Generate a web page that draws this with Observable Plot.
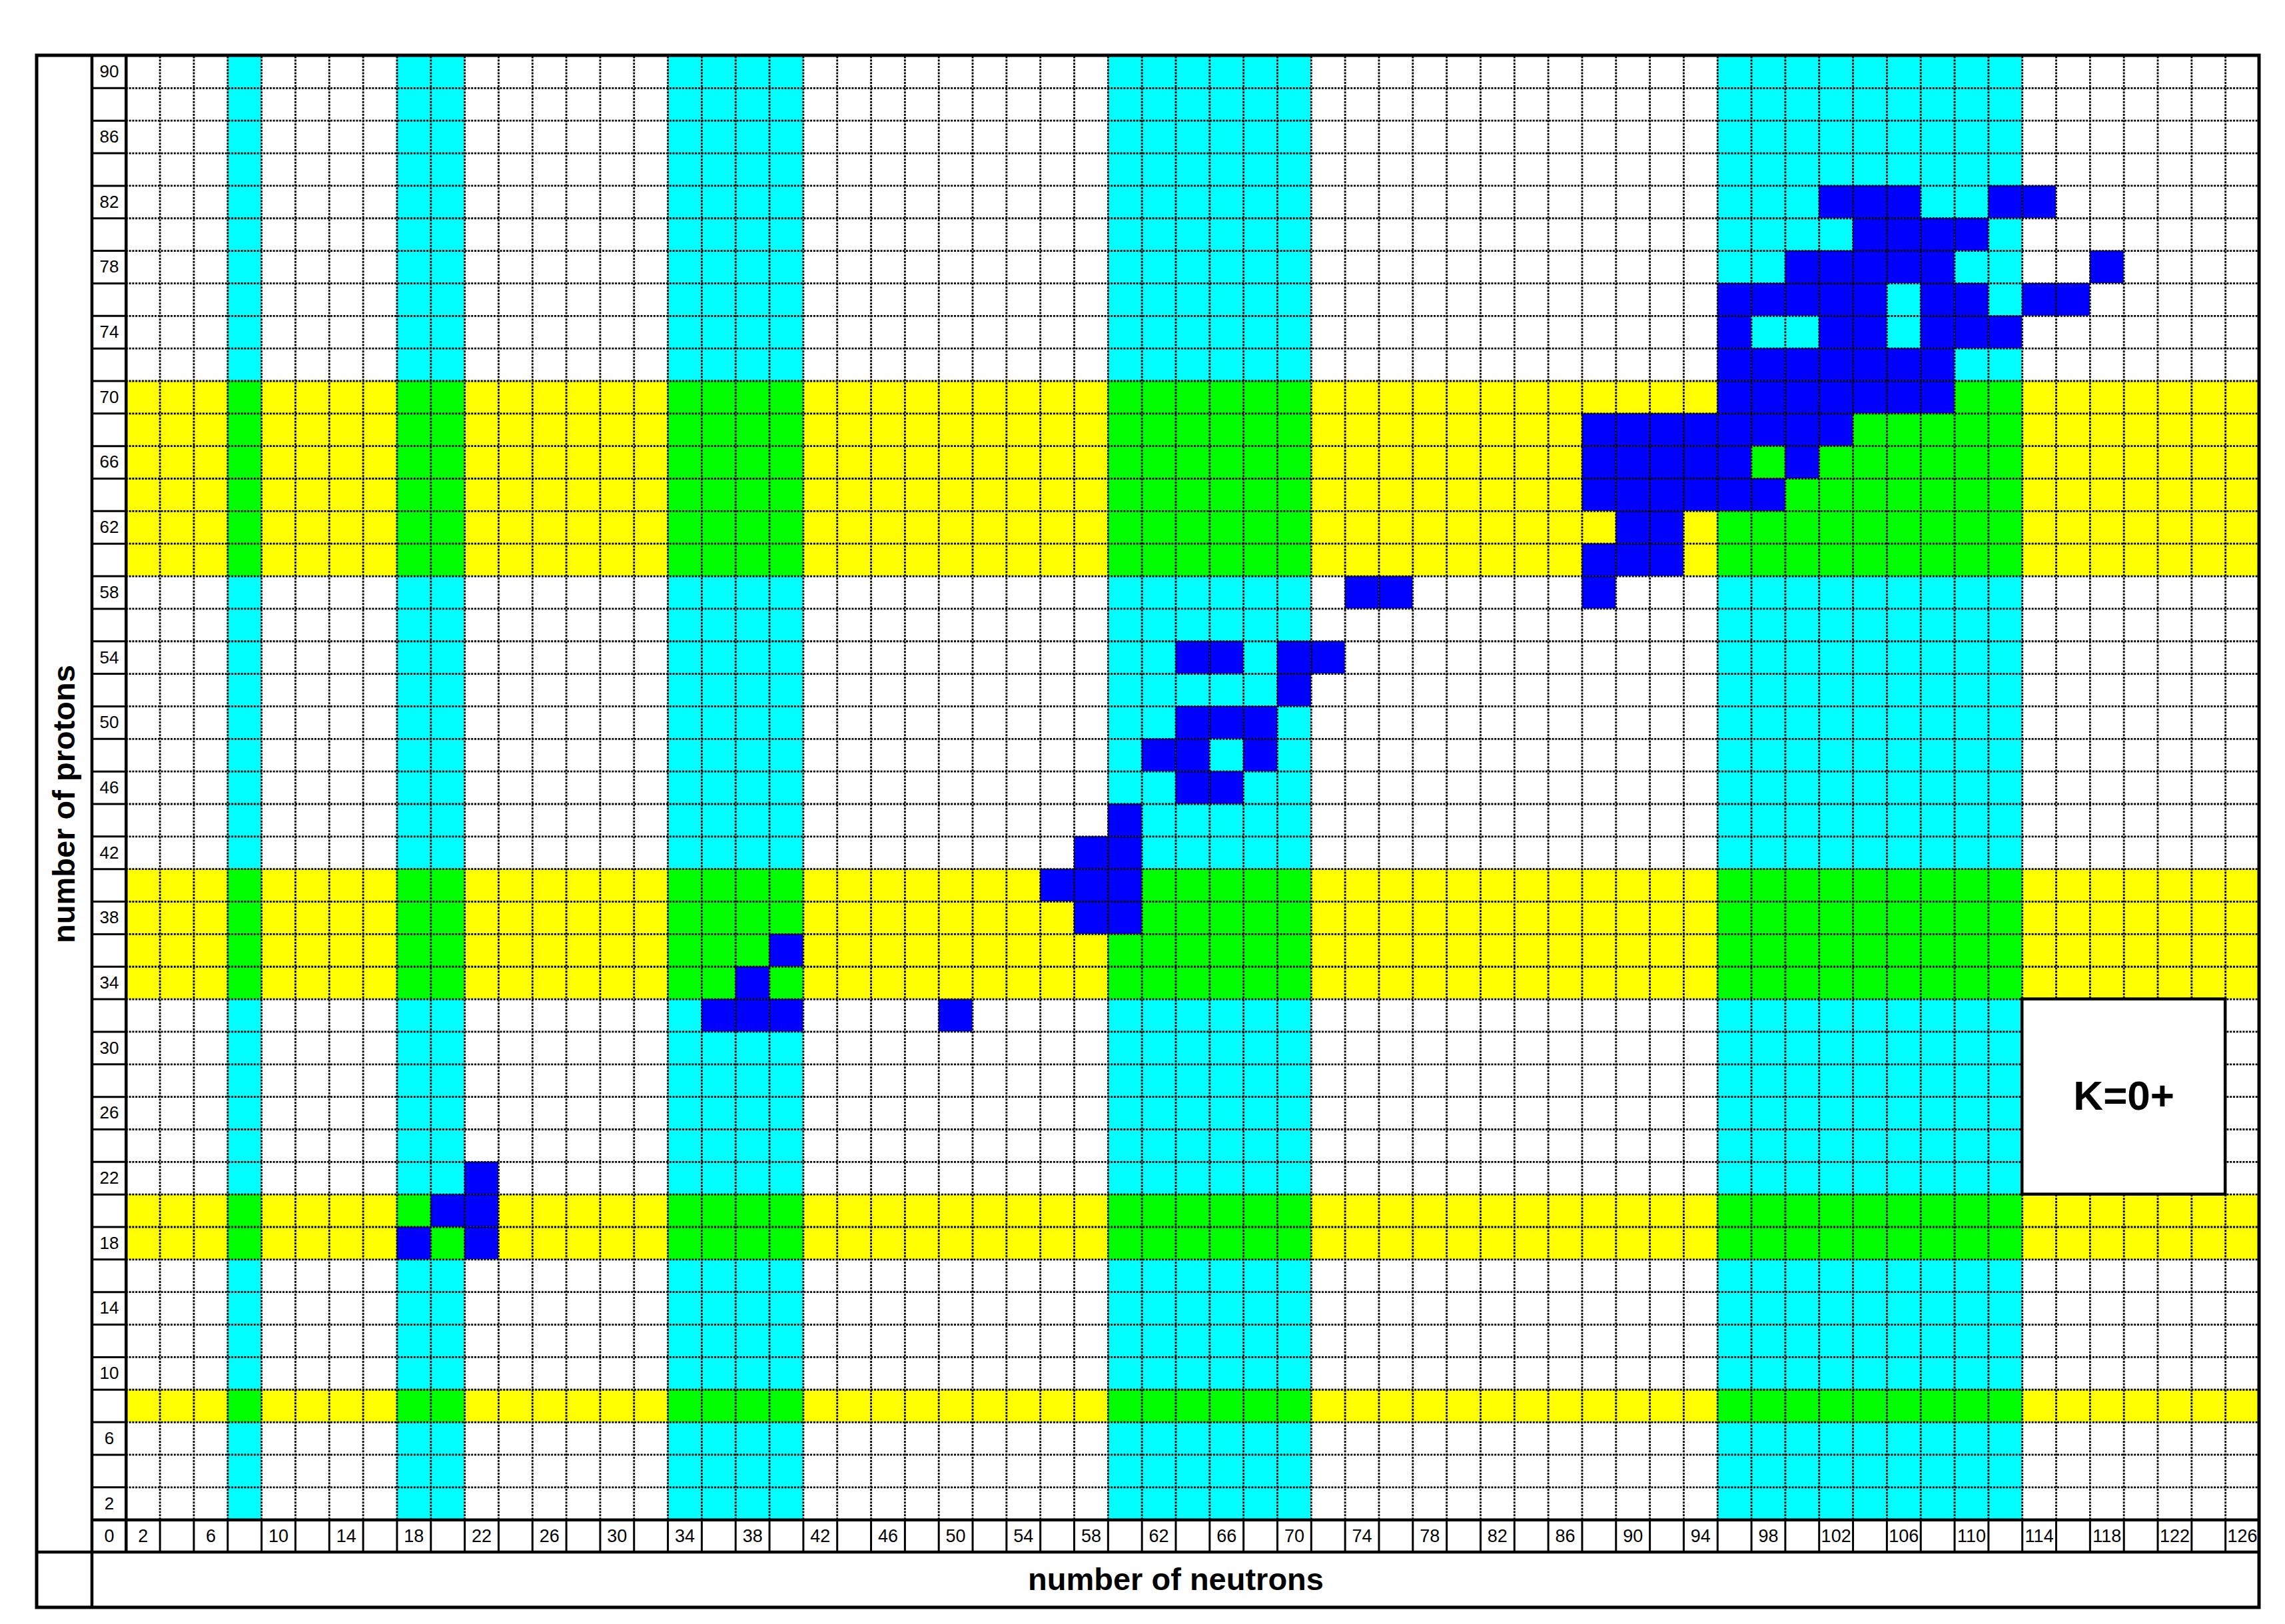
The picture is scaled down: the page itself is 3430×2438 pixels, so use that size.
<!DOCTYPE html>
<html>
<head>
<meta charset="utf-8">
<script src="https://cdn.jsdelivr.net/npm/d3@7"></script>
<script src="https://cdn.jsdelivr.net/npm/@observablehq/plot@0.6"></script>
<style>
  html, body { margin: 0; padding: 0; background: #fff; }
  #chart svg { display: block; }
</style>
</head>
<body>
<div id="chart"></div>
<script>
// ---- categories (even neutron / proton numbers, one grid cell each) ----
const neutrons = d3.range(2, 127, 2);
const protons = d3.range(2, 91, 2);

// ---- tick labels ----
const neutronTickLabels = [2, 6, 10, 14, 18, 22, 26, 30, 34, 38, 42, 46, 50, 54, 58, 62, 66, 70, 74, 78, 82, 86, 90, 94, 98, 102, 106, 110, 114, 118, 122, 126];
const protonTickLabels = [2, 6, 10, 14, 18, 22, 26, 30, 34, 38, 42, 46, 50, 54, 58, 62, 66, 70, 74, 78, 82, 86, 90];
const cornerLabel = ["0"];

// ---- shaded bands ----
const cyanNeutrons = [8, 18, 20, 34, 36, 38, 40, 60, 62, 64, 66, 68, 70, 96, 98, 100, 102, 104, 106, 108, 110, 112];
const yellowProtons = [8, 18, 20, 34, 36, 38, 40, 60, 62, 64, 66, 68, 70];

// ---- blue cells: [proton number, neutron numbers] ----
const blueRows = [
  [18, [18, 22]],
  [20, [20, 22]],
  [22, [22]],
  [32, [36, 38, 40, 50]],
  [34, [38]],
  [36, [40]],
  [38, [58, 60]],
  [40, [56, 58, 60]],
  [42, [58, 60]],
  [44, [60]],
  [46, [64, 66]],
  [48, [62, 64, 68]],
  [50, [64, 66, 68]],
  [52, [70]],
  [54, [64, 66, 70, 72]],
  [58, [74, 76, 88]],
  [60, [88, 90, 92]],
  [62, [90, 92]],
  [64, [88, 90, 92, 94, 96, 98]],
  [66, [88, 90, 92, 94, 96, 100]],
  [68, [88, 90, 92, 94, 96, 98, 100, 102]],
  [70, [96, 98, 100, 102, 104, 106, 108]],
  [72, [96, 98, 100, 102, 104, 106, 108]],
  [74, [96, 102, 104, 108, 110, 112]],
  [76, [96, 98, 100, 102, 104, 108, 110, 114, 116]],
  [78, [100, 102, 104, 106, 108, 118]],
  [80, [104, 106, 108, 110]],
  [82, [102, 104, 106, 112, 114]]
];

// ---- legend box ----
const boxLabel = ["K=0+"];
const boxNeutrons = [114, 124];
const boxProtons = [22, 32];

const axisTitles = { x: "number of neutrons", y: "number of protons" };

// ---- colours ----
const CYAN = "#00FFFF", YELLOW = "#FFFF00", GREEN = "#00FF00", BLUE = "#0000FF";

(function draw() {
  // ---- derived tables ----
  const nMin = neutrons[0] - 1, nMax = neutrons[neutrons.length - 1] + 1;   // 1 .. 127
  const zMin = protons[0] - 1, zMax = protons[protons.length - 1] + 1;       // 1 .. 91
  const lab = -1; // label column / row spans [-1, 1]
  const cell = (N, Z) => ({ x1: N - 1, x2: N + 1, y1: Z - 1, y2: Z + 1 });

  const yellowCells = yellowProtons.map(Z => ({ x1: nMin, x2: nMax, y1: Z - 1, y2: Z + 1 }));
  const cyanCells = cyanNeutrons.map(N => ({ x1: N - 1, x2: N + 1, y1: zMin, y2: zMax }));
  const greenCells = cyanNeutrons.flatMap(N => yellowProtons.map(Z => cell(N, Z)));
  const blueCells = blueRows.flatMap(([Z, Ns]) => Ns.map(N => cell(N, Z)));

  const vBounds = neutrons.slice(0, -1).map(N => N + 1);
  const hBounds = protons.slice(0, -1).map(Z => Z + 1);

  const box = { x1: boxNeutrons[0] - 1, x2: boxNeutrons[1] + 1, y1: boxProtons[0] - 1, y2: boxProtons[1] + 1 };

  const FONT = "'Liberation Sans', Arial, Helvetica, sans-serif";
  const titleBand = 83;
  const dots = "3,1.8";
  const R = { x1: "x1", x2: "x2", y1: "y1", y2: "y2" };

  const chart = Plot.plot({
    width: 3430,
    height: 2438,
    marginTop: 83,
    marginRight: 39,
    marginBottom: 108,
    marginLeft: 138,
    style: { fontFamily: FONT, background: "white", color: "black" },
    x: { type: "linear", domain: [lab, nMax], axis: null },
    y: { type: "linear", domain: [lab, zMax], axis: null },
    marks: [
      Plot.rect(yellowCells, { ...R, fill: YELLOW }),
      Plot.rect(cyanCells, { ...R, fill: CYAN }),
      Plot.rect(greenCells, { ...R, fill: GREEN }),
      Plot.rect(blueCells, { ...R, fill: BLUE }),
      // dotted grid
      Plot.ruleX(vBounds, { x: d => d, y1: () => zMin, y2: () => zMax, stroke: "black", strokeWidth: 2.8, strokeDasharray: dots }),
      Plot.ruleY(hBounds, { y: d => d, x1: () => nMin, x2: () => nMax, stroke: "black", strokeWidth: 2.8, strokeDasharray: dots }),
      // label column / row separators
      Plot.ruleY(hBounds, { y: d => d, x1: () => lab, x2: () => nMin, stroke: "black", strokeWidth: 3 }),
      Plot.ruleX(vBounds, { x: d => d, y1: () => lab, y2: () => zMin, stroke: "black", strokeWidth: 3 }),
      // thick separators
      Plot.ruleX([nMin], { x: d => d, y1: () => lab, y2: () => zMax, stroke: "black", strokeWidth: 4.5 }),
      Plot.ruleY([zMin], { y: d => d, x1: () => lab, x2: () => nMax, stroke: "black", strokeWidth: 4.5 }),
      // tick labels
      Plot.text(neutronTickLabels, { x: d => d, y: () => 0, text: d => String(d), fontSize: 27, fill: "black" }),
      Plot.text(protonTickLabels, { x: () => 0, y: d => d, text: d => String(d), fontSize: 26, fill: "black" }),
      Plot.text(cornerLabel, { x: () => 0, y: () => 0, text: d => d, fontSize: 27, fill: "black" }),
      // legend box
      Plot.rect([box], { ...R, fill: "white", stroke: "black", strokeWidth: 4.5 }),
      Plot.text(boxLabel, { x: () => (box.x1 + box.x2) / 2, y: () => (box.y1 + box.y2) / 2, text: d => d, fontSize: 62, fontWeight: "bold", fill: "black" }),
      // axis titles
      Plot.text([axisTitles.x], { frameAnchor: "bottom", dy: titleBand / 2, lineAnchor: "middle", textAnchor: "middle", text: d => d, fontSize: 47, fontWeight: "bold", fill: "black" }),
      Plot.text([axisTitles.y], { frameAnchor: "left", dx: -titleBand / 2, rotate: -90, lineAnchor: "middle", textAnchor: "middle", text: d => d, fontSize: 47, fontWeight: "bold", fill: "black" })
    ]
  });

  // outer frame lines that reach into the title margins
  const sx = chart.scale("x"), sy = chart.scale("y");
  const pxLeft = sx.apply(lab) - titleBand, pxRight = sx.apply(nMax);
  const pxTop = sy.apply(zMax), pxBottom = sy.apply(lab) + titleBand;
  const g = d3.select(chart).append("g").attr("fill", "none").attr("stroke", "black");
  g.append("rect").attr("x", pxLeft).attr("y", pxTop).attr("width", pxRight - pxLeft).attr("height", pxBottom - pxTop).attr("stroke-width", 5);
  g.append("line").attr("x1", sx.apply(lab)).attr("x2", sx.apply(lab)).attr("y1", pxTop).attr("y2", pxBottom).attr("stroke-width", 4.5);
  g.append("line").attr("x1", pxLeft).attr("x2", pxRight).attr("y1", sy.apply(lab)).attr("y2", sy.apply(lab)).attr("stroke-width", 4.5);

  document.getElementById("chart").appendChild(chart);
})();
</script>
</body>
</html>
